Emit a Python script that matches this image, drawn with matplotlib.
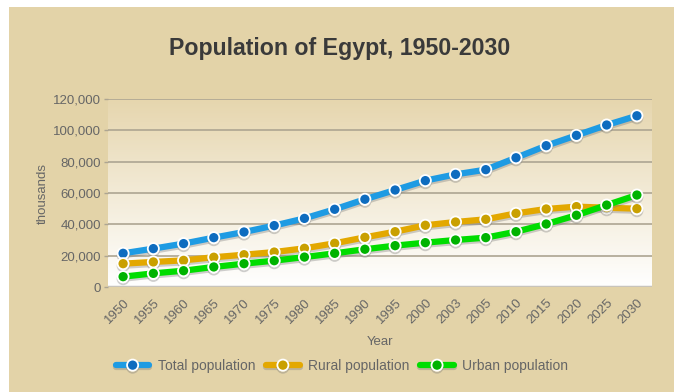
import matplotlib
matplotlib.use("Agg")
import matplotlib.pyplot as plt
import matplotlib.patheffects as pe
from matplotlib.patches import Rectangle
import numpy as np

years = ["1950", "1955", "1960", "1965", "1970", "1975", "1980", "1985", "1990",
         "1995", "2000", "2003", "2005", "2010", "2015", "2020", "2025", "2030"]
total = [21500, 24500, 27700, 31500, 35100, 39200, 43800, 49600, 56000,
         61900, 67900, 71900, 74900, 82500, 90200, 96800, 103400, 109300]
rural = [14900, 16000, 17000, 19000, 20600, 22300, 24700, 27900, 31700,
         35300, 39400, 41500, 43200, 47000, 49800, 51300, 50600, 50000]
urban = [6600, 8700, 10400, 12800, 14900, 16800, 19100, 21500, 24100,
         26400, 28300, 30000, 31500, 35300, 40200, 45800, 52300, 58700]
yticks = [0, 20000, 40000, 60000, 80000, 100000, 120000]

plt.rcParams['font.family'] = ['Liberation Sans', 'DejaVu Sans']

W, H = 674, 392
fig = plt.figure(figsize=(W / 100, H / 100), dpi=100, facecolor='white')
bg = '#E3D3A8'
fig.patches.append(Rectangle((9 / W, 0), 1 - 9 / W, 1 - 7 / H, transform=fig.transFigure,
                             facecolor=bg, edgecolor='none', zorder=-10))

ax = fig.add_axes([108 / W, 1 - 287 / H, (652 - 108) / W, (287 - 99) / H])
ax.set_facecolor('none')
for s in ax.spines.values():
    s.set_visible(False)

# gradient background of plot area
top_c = np.array([0xE6, 0xD6, 0xAE]) / 255
bot_c = np.array([1.0, 1.0, 1.0])
t = np.linspace(0, 1, 256)[:, None]
grad = (top_c[None, :] * (1 - t) + bot_c[None, :] * t)[:, None, :]
ax.imshow(grad, extent=[0, 1, 0, 1], transform=ax.transAxes, aspect='auto',
          zorder=0, interpolation='bilinear')

x = np.arange(len(years))
ax.set_xlim(-0.5, len(years) - 0.5)
ax.set_ylim(0, 120000)
ax.set_yticks(yticks)
ax.set_yticklabels([f"{v:,}" for v in yticks])
for v in yticks:
    ax.axhline(v, color='#ADA592' if v else '#C8C4BC', lw=1.2 if v else 2.5, zorder=1)

series = [
    (total, '#1E9BE3', '#0E6CBF', 'Total population'),
    (rural, '#E3A800', '#C9A000', 'Rural population'),
    (urban, '#00DD00', '#00B300', 'Urban population'),
]
for vals, lc, mc, lab in series:
    ax.plot(x, vals, color=lc, lw=4.5, solid_capstyle='round', zorder=3,
            marker='o', markersize=8, markerfacecolor=mc, markeredgecolor='white',
            markeredgewidth=1.3, label=lab,
            path_effects=[pe.SimpleLineShadow(offset=(0, -1.5), shadow_color='#777777', alpha=0.35),
                          pe.Normal()])

ax.set_xticks(x)
ax.set_xticklabels(years, rotation=45, ha='right', rotation_mode='anchor')
ax.tick_params(axis='y', length=3, width=1, color='#ADA592', labelsize=9.5,
               labelcolor='#666666', pad=2)
ax.tick_params(axis='x', length=0, labelsize=9.5, labelcolor='#666666', pad=7)
ax.set_xlabel('Year', fontsize=9.5, color='#666666', labelpad=7)
ax.set_ylabel('thousands', fontsize=9.5, color='#666666', labelpad=3)

fig.text(340 / W, 1 - 48 / H, 'Population of Egypt, 1950-2030', ha='center', va='center',
         fontsize=16.7, fontweight='bold', color='#3A3A3A')

leg = fig.legend(loc='center', bbox_to_anchor=(342 / W, 1 - 366 / H), ncol=3, frameon=False,
                 fontsize=10, handlelength=2.4, columnspacing=0.8, handletextpad=0.6)
for txt in leg.get_texts():
    txt.set_color('#666666')

fig.savefig('out.png', dpi=100, facecolor=fig.get_facecolor())
